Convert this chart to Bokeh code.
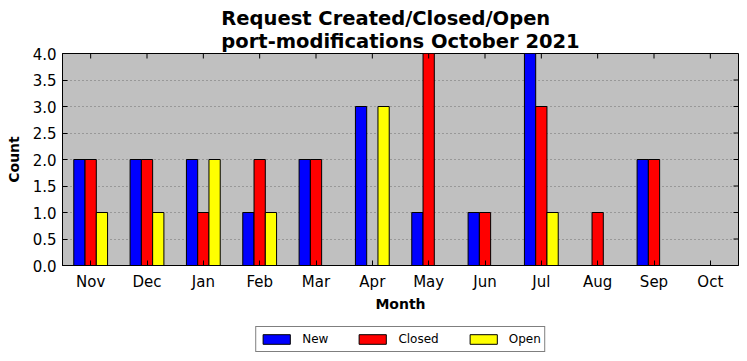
from bokeh.plotting import figure
from bokeh.layouts import column
from bokeh.models import (FactorRange, Range1d, ColumnDataSource, Legend, LegendItem,
                          SingleIntervalTicker, NumeralTickFormatter)
from bokeh.transform import dodge
from bokeh.embed import file_html
from bokeh.resources import INLINE

# ---- data ----
months = ["Nov", "Dec", "Jan", "Feb", "Mar", "Apr", "May", "Jun", "Jul", "Aug", "Sep", "Oct"]
new_counts = [2, 2, 2, 1, 2, 3, 1, 1, 4, 0, 2, 0]
closed_counts = [2, 2, 1, 2, 2, 0, 4, 1, 3, 1, 2, 0]
open_counts = [1, 1, 2, 1, 0, 3, 0, 0, 1, 0, 0, 0]
series_names = ["New", "Closed", "Open"]
series_colors = ["#0000ff", "#ff0000", "#ffff00"]
y_min, y_max, y_step = 0, 4, 0.5
y_ticks = [0, 0.5, 1.0, 1.5, 2.0, 2.5, 3.0, 3.5, 4.0]
title_lines = ["Request Created/Closed/Open", "port-modifications October 2021"]

FONT = "DejaVu Sans"
W = 747
FRAME_W, FRAME_H = 676, 212
TICK_PX = 5

source = ColumnDataSource(dict(month=months, New=new_counts, Closed=closed_counts, Open=open_counts))

p = figure(width=W, height=320, x_range=FactorRange(*months), y_range=Range1d(y_min, y_max),
           output_backend="svg", toolbar_location=None,
           min_border_left=62, min_border_right=9, min_border_top=53, min_border_bottom=55,
           background_fill_color="#c0c0c0", border_fill_color="white")

p.title.text = "\n".join(title_lines)
p.title.align = "center"
p.title.text_font = FONT
p.title.text_font_size = "19.5px"
p.title.text_font_style = "bold"
p.title.text_color = "black"
p.title.text_line_height = 1.0
p.title.standoff = 2

p.outline_line_color = "black"
p.outline_line_width = 1

offsets = [-0.2, 0.0, 0.2]
renderers = []
for name, color, off in zip(series_names, series_colors, offsets):
    r = p.vbar(x=dodge("month", off, range=p.x_range), top=name, width=0.2, source=source,
               fill_color=color, line_color="black", line_width=1)
    renderers.append(r)

# mirrored inward ticks on the top and right edges
y_tick_len = (y_max - y_min) * TICK_PX / FRAME_H
x_tick_len = len(months) * TICK_PX / FRAME_W
top_src = ColumnDataSource(dict(month=months, y0=[y_max] * len(months),
                                y1=[y_max - y_tick_len] * len(months)))
p.segment(x0="month", y0="y0", x1="month", y1="y1", source=top_src, line_color="black", line_width=1)
right_src = ColumnDataSource(dict(month=[months[-1]] * len(y_ticks), y=y_ticks))
p.segment(x0=dodge("month", 0.5, range=p.x_range), y0="y",
          x1=dodge("month", 0.5 - x_tick_len, range=p.x_range), y1="y",
          source=right_src, line_color="black", line_width=1)

ticker = SingleIntervalTicker(interval=y_step, num_minor_ticks=0)

xa = p.xaxis[0]
ya = p.yaxis[0]
for ax in (xa, ya):
    ax.major_tick_in = TICK_PX
    ax.major_tick_out = 0
    ax.minor_tick_in = 0
    ax.minor_tick_out = 0
    ax.axis_line_color = "black"
    ax.major_tick_line_color = "black"
    ax.major_label_text_font = FONT
    ax.major_label_text_font_size = "15px"
    ax.major_label_text_color = "black"
    ax.axis_label_text_font = FONT
    ax.axis_label_text_font_size = "14px"
    ax.axis_label_text_font_style = "bold"
    ax.axis_label_text_color = "black"

xa.axis_label = "Month"
xa.major_label_standoff = 7
xa.axis_label_standoff = 2
ya.axis_label = "Count"
ya.ticker = ticker
ya.formatter = NumeralTickFormatter(format="0.0")
ya.major_label_standoff = 6
ya.axis_label_standoff = 8

p.xgrid.grid_line_color = None
p.ygrid.ticker = ticker
p.ygrid.grid_line_color = "#707070"
p.ygrid.grid_line_dash = "1 3"
p.ygrid.grid_line_width = 1

# ---- legend strip below the chart (key glyphs sit outside its visible y-range) ----
lg = figure(width=W, height=41, output_backend="svg", toolbar_location=None,
            x_axis_type=None, y_axis_type=None, x_range=Range1d(0, 1), y_range=Range1d(1, 2),
            min_border_left=62, min_border_right=9, min_border_top=0, min_border_bottom=0,
            background_fill_color="white", border_fill_color="white", outline_line_color=None)
lg.grid.visible = False
key_src = ColumnDataSource(dict(x=[0.5], top=[0], bottom=[0]))
key_renderers = []
for name, color in zip(series_names, series_colors):
    kr = lg.vbar(x="x", top="top", bottom="bottom", width=0.2, source=key_src,
                 fill_color=color, line_color="black", line_width=1)
    key_renderers.append(kr)

legend = Legend(items=[LegendItem(label=n, renderers=[r]) for n, r in zip(series_names, key_renderers)],
                orientation="horizontal", location="top_center",
                label_text_font=FONT, label_text_font_size="12px", label_text_color="black",
                glyph_width=34, glyph_height=12, label_standoff=9, spacing=27,
                padding=3, label_height=18, margin=6,
                border_line_color="black", border_line_width=1,
                background_fill_color="white", background_fill_alpha=1)
lg.add_layout(legend, "center")

layout = column(p, lg, spacing=0)
open("out.html", "w").write(file_html(layout, INLINE))
